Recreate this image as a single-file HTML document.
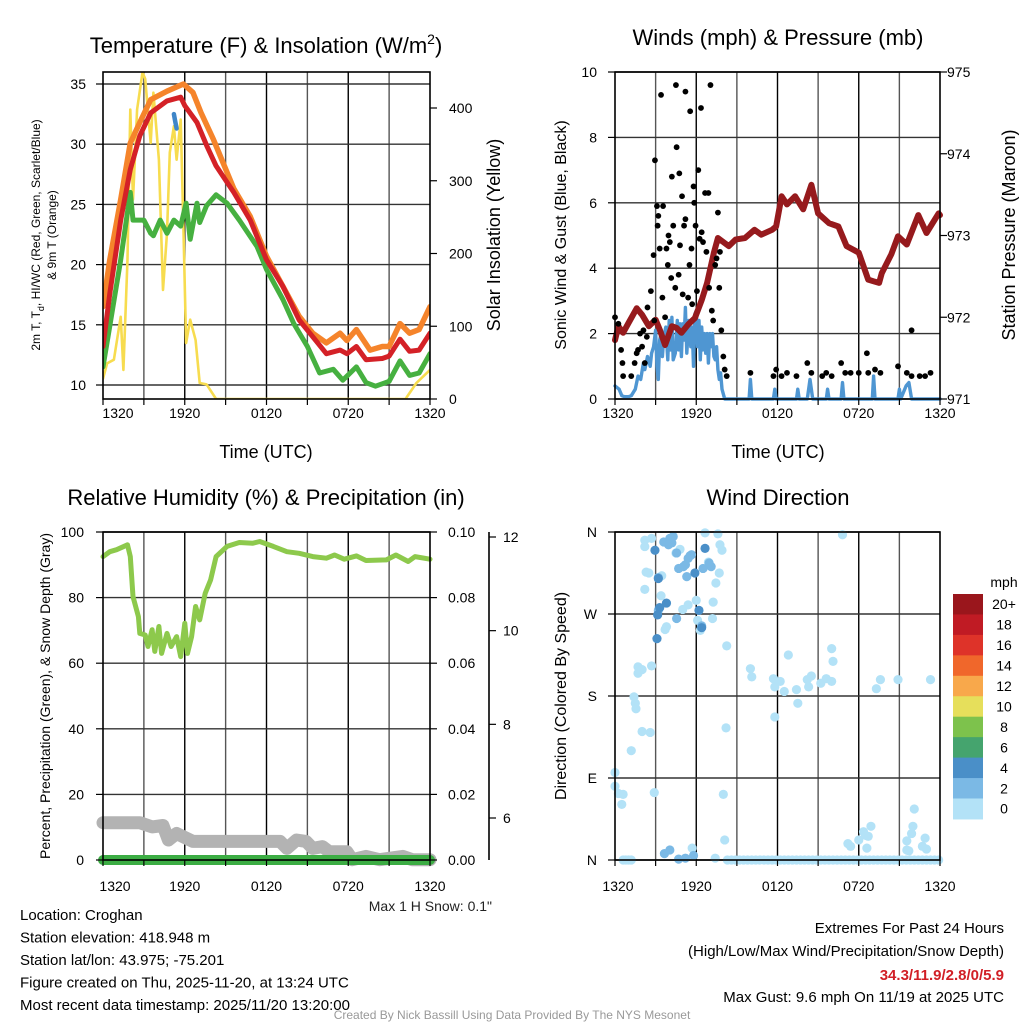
<!DOCTYPE html>
<html><head><meta charset="utf-8"><style>
html,body{margin:0;padding:0;background:#fff;}
svg{display:block;font-family:"Liberation Sans",Arial,sans-serif;}
</style></head><body>
<svg id="c" width="1024" height="1024" viewBox="0 0 1024 1024"></svg>
<script>
// ---------- DATA ----------
const redT=[0,0.5,1.3,2.0,2.7,3.5,4.7,5.7,6.0,6.9,7.6,8.3,9.6,10.8,12.0,13.2,14.4,15.4,16.4,17.4,17.9,18.6,19.3,20.5,21.0,21.8,22.5,23.2,24];
const redV=[13.2,17.6,23.7,27.9,30.7,32.6,33.6,33.9,33.2,31.8,29.9,28.2,26.0,23.7,20.4,18.2,15.4,14.0,12.6,12.9,12.6,13.2,12.1,12.2,12.4,13.8,12.8,12.9,14.3];
const orgT=[0,0.5,1.3,2.0,2.7,3.5,4.7,5.9,6.6,7.2,8.1,9.6,10.8,12.0,13.2,14.4,15.4,16.4,17.4,17.9,18.6,19.6,20.5,21.0,21.8,22.5,23.2,24];
const orgV=[16.5,20.4,25.4,30.1,31.8,33.7,34.4,35.0,34.3,32.6,30.4,26.3,24.0,20.7,18.2,15.7,14.3,13.5,14.3,13.7,14.6,12.9,13.2,13.2,15.1,14.3,14.6,16.5];
const grnT=[0,0.5,1.3,2.0,2.2,3.0,3.5,3.7,4.2,4.7,5.2,5.7,6.1,6.4,6.9,7.1,7.6,8.3,9.1,10.0,11.3,12.0,13.2,14.0,15.0,15.9,16.9,17.6,18.6,19.3,20.0,21.0,21.8,22.5,23.2,24];
const grnV=[11.5,14.9,20.4,26.0,23.7,23.7,22.6,22.4,23.7,22.6,23.7,23.2,25.1,22.1,25.1,23.5,24.9,25.8,25.1,23.7,21.5,19.6,17.1,15.1,13.2,11.0,11.3,10.4,11.5,10.2,9.9,10.3,12.0,10.8,11.0,12.6];
const hiT=[5.2,5.3,5.4];
const hiV=[32.5,31.9,31.3];
const solT=[0,0.3,0.8,1.3,1.5,1.8,2.0,2.2,2.5,2.9,3.1,3.5,3.7,4.1,4.4,4.7,4.9,5.2,5.4,5.7,5.9,6.1,6.4,6.8,7.1,7.6,8.3,22.2,23.0,24];
const solV=[28,49,54,113,40,192,398,274,398,449,440,352,421,329,150,228,339,375,329,384,237,77,109,81,22,20,0,0,22,40];
const windT=[0,0.3,0.5,0.7,1.0,1.2,1.5,1.7,1.9,2.1,2.2,2.4,2.6,2.7,2.85,3.0,3.1,3.2,3.3,3.4,3.5,3.6,3.75,3.9,4.0,4.1,4.2,4.3,4.45,4.6,4.7,4.8,4.9,5.0,5.1,5.2,5.3,5.45,5.6,5.7,5.8,5.9,6.0,6.1,6.2,6.3,6.4,6.5,6.6,6.7,6.8,6.9,7.0,7.1,7.2,7.3,7.4,7.5,7.6,7.7,7.8,7.9,8.1,9.9,10.0,10.1,11.7,11.8,11.9,13.4,13.5,13.6,14.2,14.4,14.6,15.6,15.7,15.8,16.7,16.8,16.9,19.0,19.1,19.2,20.9,21.0,21.1,21.5,21.7,21.9,24];
const windV=[0.4,0.3,0.1,0.07,0.07,0.1,0.3,0.7,0.6,1.1,0.9,1.3,1.0,1.4,1.6,2.1,1.0,0.6,1.8,2.0,1.3,1.9,2.2,1.2,2.4,1.5,2.5,1.2,1.4,2.4,1.5,2.3,1.3,2.3,1.8,2.8,1.4,2.4,1.6,2.2,1.0,2.6,2.7,1.6,2.4,1.2,2.2,1.5,2.0,1.4,2.0,1.1,2.0,1.6,2.0,1.3,1.2,1.6,0.9,0.6,0.8,0.3,0,0,0.6,0,0,0.3,0,0,0.3,0,0,0.6,0,0,0.3,0,0,0.5,0,0,0.7,0,0,0.3,0,0.4,0.5,0,0];
const gustT=[0.0,0.25,0.45,0.55,0.6,1.2,1.45,1.6,1.7,1.85,2.0,2.1,2.2,2.35,2.4,2.65,2.85,2.9,2.95,3.1,3.15,3.2,3.3,3.4,3.5,3.55,3.7,3.8,3.9,3.95,4.05,4.15,4.2,4.3,4.45,4.5,4.55,4.7,4.75,4.8,4.95,5.0,5.1,5.2,5.2,5.4,5.5,5.55,5.65,5.7,5.8,5.85,5.95,6.05,6.15,6.25,6.35,6.4,6.5,6.65,6.75,6.9,6.95,7.05,7.15,7.25,7.4,7.5,7.6,7.7,7.75,7.85,8.0,8.1,8.25,10.0,11.7,11.9,12.3,12.7,13.4,14.2,14.5,15.3,15.6,16.0,16.7,17.0,17.4,18.0,18.6,18.7,19.2,19.6,20.9,21.55,21.9,21.9,22.5,22.9,23.3];
const gustV=[2.5,2.3,1.5,1.1,0.7,0.7,1.1,1.4,1.5,2.0,1.6,2.1,1.1,1.9,2.8,3.3,4.4,2.4,7.3,5.9,5.3,5.6,4.6,9.3,3.1,5.9,2.5,4.6,4.1,5.0,4.8,3.7,6.8,5.3,3.4,9.6,7.7,3.8,6.9,4.7,6.2,3.2,5.3,5.5,9.4,3.1,4.1,8.8,4.6,2.9,6.5,6.0,5.3,3.3,7.0,4.9,8.9,5.1,4.8,6.3,4.5,6.3,3.4,9.6,2.7,2.4,4.1,4.3,5.7,3.4,4.5,2.1,1.3,0.9,0.7,0.8,0.7,0.9,0.7,0.8,0.7,1.1,0.8,0.7,0.8,0.7,1.1,0.8,0.8,0.8,1.4,0.8,0.9,0.8,1.0,0.8,2.1,0.7,0.7,0.7,0.8];
const presT=[0,0.25,0.6,1.0,1.6,2.0,2.5,3.0,3.3,3.7,4.2,4.55,4.9,5.4,5.9,6.4,6.8,7.3,7.6,8.4,8.9,9.6,10.3,10.8,11.6,11.9,12.3,12.7,13.3,13.9,14.5,15.0,15.8,16.5,17.1,18.0,18.7,19.1,19.5,19.7,20.4,20.9,21.55,22.4,23.0,23.9,24];
const presV=[971.72,971.89,971.81,971.93,972.11,972.03,971.89,971.97,971.85,971.66,971.89,971.87,971.81,971.91,971.99,972.21,972.42,972.79,972.97,972.87,972.95,972.97,973.07,973.01,973.07,973.11,973.48,973.38,973.48,973.32,973.62,973.27,973.15,973.11,972.87,972.79,972.46,972.44,972.42,972.54,972.77,972.99,972.89,973.25,973.03,973.27,973.25];
const rhT=[0,0.5,1.0,1.8,2.0,2.2,2.6,2.7,3.1,3.3,3.6,3.8,4.1,4.3,4.7,5.0,5.4,5.7,6.0,6.2,6.5,6.8,7.1,7.5,7.9,8.3,9.1,10.0,11.0,11.5,12.5,13.5,14.4,15.4,16.4,17.0,17.7,18.6,19.3,20.8,21.5,22.4,22.9,24];
const rhV=[92.5,94.0,94.6,96.1,92.5,80.3,74.2,69.1,68.6,65.1,70.2,63.6,71.2,63.0,69.1,65.1,68.1,62.0,72.2,63.0,68.1,77.3,73.2,81.3,85.4,92.5,95.6,96.8,96.6,97.1,95.6,94.0,93.5,92.5,92.0,93.0,91.7,92.7,91.3,91.5,93.0,91.0,92.5,91.7];
const snowT=[0,2.7,3.6,4.4,4.8,5.4,6.1,6.6,13.0,13.5,14.2,14.9,15.4,16.1,16.6,17.9,18.3,19.3,20.3,22.0,22.7,24];
const snowV=[5.90,5.90,5.81,5.84,5.53,5.67,5.57,5.50,5.50,5.35,5.53,5.50,5.35,5.39,5.28,5.28,5.11,5.18,5.11,5.18,5.11,5.11];
const precipT=[0,24];
const precipV=[0,0];
const dirLightT=[2.2,2.7,2.2,2.3,2.5,2.2,1.7,1.8,1.7,2.0,2.7,1.4,1.5,1.55,2.0,2.6,1.2,0,0,0.25,0.6,0.5,2.9,3.45,3.4,3.8,3.7,4.5,4.8,5.0,5.4,6.0,6.1,6.3,6.65,7.6,7.75,7.9,6.9,7.7,7.45,7.25,7.2,8.25,8.2,8.0,8.1,5.7,10.0,10.1,11.7,11.8,12.2,12.5,12.8,13.4,13.5,11.8,14.2,14.5,14.3,15.2,15.6,16.0,16.0,16.1,16.8,19.3,19.6,20.9,23.3,17.2,17.4,18.0,18.35,18.5,18.7,18.9,18.6,21.55,21.9,22.0,22.1,22.9,22.7,23.0,21.55,21.7];
const dirLightV=[351,353,344,316,315,297,212,209,205,209,213,179,172,166,141,140,120,96,81,73,72,61,74,312,290,256,253,337,341,275,280,285,263,252,359,358,346,340,327,315,304,283,265,235,145,72,22,13,210,201,199,190,196,185,225,187,172,157,198,202,190,194,199,196,232,218,357,188,198,198,198,18,15,22,31,27,26,37,13,21,29,37,56,24,15,12,11,10];
const dirCalmT=[0.6,0.8,1.0,1.2,7.4,8.3,8.6,8.9,9.2,9.5,9.8,10.1,10.4,10.7,11.0,11.3,11.6,11.9,12.2,12.5,12.8,13.1,13.4,13.7,14.0,14.3,14.6,14.9,15.2,15.5,15.8,16.1,16.4,16.7,17.0,17.3,17.6,17.9,18.2,18.5,18.8,19.1,19.4,19.7,20.0,20.3,20.6,20.9,21.2,21.5,21.8,22.1,22.4,22.7,23.0,23.3,23.6,23.9];
const dirCalmV=[0,0,0,0,2,0,0,0,0,0,0,0,0,0,0,0,0,0,0,0,0,0,0,0,0,0,0,0,0,0,0,0,0,0,0,0,0,0,0,0,0,0,0,0,0,0,0,0,0,0,0,0,0,0,0,0,0,0];
const dirMidT=[3.6,4.05,4.3,4.2,3.95,4.55,4.7,5.05,5.2,5.55,5.65,5.4,6.5,7.1,6.95,5.3,4.55,6.4,3.65,4.05,4.7,5.2,5.8,3.2,3.2];
const dirMidV=[349,353,355,348,346,337,320,322,324,334,335,331,320,322,326,311,265,257,7,11,1,2,5,274,310];
const dirDarkT=[2.95,3.2,3.8,3.1,3.15,3.3,6.65,5.9,6.2,6.4];
const dirDarkV=[340,309,282,243,269,277,342,315,274,255];
const cbLabels=["20+","18","16","14","12","10","8","6","4","2","0"];
const cbColors=["#9a161c","#c01b24","#de3329","#f0672b","#f8a84b","#e6df5b","#7dc24c","#45a46e","#4a8fc8","#7bb9e5","#b3e2f7"];

// ---------- HELPERS ----------
const svg=document.getElementById('c');
const NS='http://www.w3.org/2000/svg';
function mk(tag,attrs,parent){const e=document.createElementNS(NS,tag);for(const k in attrs)e.setAttribute(k,attrs[k]);(parent||svg).appendChild(e);return e;}
function lin(d0,d1,r0,r1){return v=>r0+(v-d0)*(r1-r0)/(d1-d0);}
function txt(x,y,s,size,anchor,extra,name){const t=mk('text',Object.assign({x:x,y:y,'font-size':size,'text-anchor':anchor||'start',fill:'#000'},extra||{}));t.textContent=s;


return t;}
function pathOf(ts,vs,sx,sy){return ts.map((t,i)=>(i?'L':'M')+sx(t).toFixed(1)+','+sy(vs[i]).toFixed(1)).join('');}
function line(ts,vs,sx,sy,color,w,name,g){const p=mk('path',{d:pathOf(ts,vs,sx,sy),fill:'none',stroke:color,'stroke-width':w,'stroke-linejoin':'round','stroke-linecap':'round'},g);


return p;}
function frame(L,T,R,B,name){const r=mk('rect',{x:L,y:T,width:R-L,height:B-T,fill:'none',stroke:'#000','stroke-width':1.6});

}
function vgrid(L,R,T,B){const sx=lin(0,24,L,R);for(let h=3;h<24;h+=3){const g=mk('line',{x1:sx(h),x2:sx(h),y1:T,y2:B,stroke:(h%6==0)?'#000':'#555','stroke-width':1.4});

}}
function hgrid(L,R,ys){ys.forEach(y=>{const g=mk('line',{x1:L,x2:R,y1:y,y2:y,stroke:'#333','stroke-width':1.4});

});}
function xlabels(L,R,y,firstOff,B){const lab=["1320","1920","0120","0720","1320"];const sx=lin(0,24,L,R);lab.forEach((s,i)=>{let x=sx(i*6);if(i==0)x+=firstOff;txt(x,y,s,14,'middle',null,'x-tick-label');});
for(let h=0;h<=24;h+=3){mk('line',{x1:sx(h),x2:sx(h),y1:B,y2:B+6,stroke:'#000','stroke-width':1.2});}}
function clip(id,L,T,R,B){const cp=mk('clipPath',{id:id});mk('rect',{x:L,y:T,width:R-L,height:B-T},cp);const g=mk('g',{'clip-path':'url(#'+id+')'});return g;}

// ---------- PANEL 1 ----------
(function(){const L=103,R=430,T=72,B=399;
const sx=lin(0,24,L,R), sy=lin(10,35,385,84), ss=lin(0,400,399,108);
vgrid(L,R,T,B);hgrid(L,R,[35,30,25,20,15,10].map(sy));
const g=clip('c1',L,T,R,B);
line(solT,solV,sx,ss,'#f7dc4f',2.6,'solar-insolation-line',g);
line(grnT,grnV,sx,sy,'#46b040',5,'dewpoint-line',g);
line(orgT,orgV,sx,sy,'#f5842b',5.5,'9m-temperature-line',g);
line(redT,redV,sx,sy,'#d42127',5,'2m-temperature-line',g);
line(hiT,hiV,sx,sy,'#3f86c8',4.5,'heat-index-line',g);
frame(L,T,R,B,'temperature-plot-frame');
[35,30,25,20,15,10].forEach(v=>txt(86,sy(v)+5,String(v),14,'end',null,'y-tick-label'));
[0,100,200,300,400].forEach(v=>{txt(449,ss(v)+5,String(v),14,'start',null,'y2-tick-label');mk('line',{x1:R,x2:R+7,y1:ss(v),y2:ss(v),stroke:'#000','stroke-width':1.2});});
for(let v=10;v<=35;v+=5)mk('line',{x1:L-7,x2:L,y1:sy(v),y2:sy(v),stroke:'#000','stroke-width':1.2});
xlabels(L,R,418,15,B);
txt(266,458,'Time (UTC)',18,'middle',null,'x-axis-title');
const t1=txt(266,53,'Temperature (F) & Insolation (W/m',22,'middle',null,'chart-title');
const sup=mk('tspan',{dy:-9,'font-size':14},t1);sup.textContent='2';
const cl=mk('tspan',{dy:9},t1);cl.textContent=')';
const yl=txt(0,0,'2m T, T',12,'middle',{transform:'translate(40,235) rotate(-90)'},'y-axis-title');
const sb=mk('tspan',{dy:4,'font-size':9},yl);sb.textContent='d';
const r2=mk('tspan',{dy:-4},yl);r2.textContent=', HI/WC (Red, Green, Scarlet/Blue)';
txt(0,0,'& 9m T (Orange)',12,'middle',{transform:'translate(56,235) rotate(-90)'},'y-axis-title-line2');
txt(0,0,'Solar Insolation (Yellow)',18,'middle',{transform:'translate(500,235) rotate(-90)'},'y2-axis-title');
})();

// ---------- PANEL 2 ----------
(function(){const L=615,R=940,T=72,B=399;
const sx=lin(0,24,L,R), sy=lin(0,10,399,72), sp=lin(971,975,399,72);
vgrid(L,R,T,B);hgrid(L,R,[0,2,4,6,8,10].map(sy));
const g=clip('c2',L-6,T,R+6,B+4);
line(windT,windV,sx,sy,'#4f96d2',3.4,'sonic-wind-line',g);
line(presT,presV,sx,sp,'#961a1d',6,'pressure-line',g);
gustT.forEach((t,i)=>{const c=mk('circle',{cx:sx(t),cy:sy(gustV[i]),r:2.9,fill:'#000'},g);

});
frame(L,T,R,B,'winds-plot-frame');
[0,2,4,6,8,10].forEach(v=>{txt(597,sy(v)+5,String(v),14,'end',null,'y-tick-label');mk('line',{x1:L-7,x2:L,y1:sy(v),y2:sy(v),stroke:'#000','stroke-width':1.2});});
[971,972,973,974,975].forEach(v=>{txt(947,sp(v)+5,String(v),14,'start',null,'y2-tick-label');mk('line',{x1:R,x2:R+7,y1:sp(v),y2:sp(v),stroke:'#000','stroke-width':1.2});});
xlabels(L,R,418,3,B);
txt(778,458,'Time (UTC)',18,'middle',null,'x-axis-title');
txt(778,45,'Winds (mph) & Pressure (mb)',22,'middle',null,'chart-title');
txt(0,0,'Sonic Wind & Gust (Blue, Black)',16,'middle',{transform:'translate(566,235) rotate(-90)'},'y-axis-title');
txt(0,0,'Station Pressure (Maroon)',18,'middle',{transform:'translate(1015,235) rotate(-90)'},'y2-axis-title');
})();

// ---------- PANEL 3 ----------
(function(){const L=103,R=430,T=532,B=860;
const sx=lin(0,24,L,R), sy=lin(0,100,860,532), sn=lin(6,12,818,537);
vgrid(L,R,T,B);hgrid(L,R,[0,20,40,60,80,100].map(sy));
line(rhT,rhV,sx,sy,'#8dc94c',5,'relative-humidity-line');
line(snowT,snowV,sx,sn,'#b3b3b3',13,'snow-depth-line');
line(precipT,precipV,sx,sy,'#3cad44',10,'precipitation-line');
frame(L,T,R,B,'humidity-plot-frame');
[0,20,40,60,80,100].forEach(v=>{txt(84,sy(v)+5,String(v),14,'end',null,'y-tick-label');mk('line',{x1:L-7,x2:L,y1:sy(v),y2:sy(v),stroke:'#000','stroke-width':1.2});});
['0.00','0.02','0.04','0.06','0.08','0.10'].forEach((s,i)=>{const y=sy(i*20);txt(448,y+5,s,14,'start',null,'y2-tick-label');mk('line',{x1:R,x2:R+7,y1:y,y2:y,stroke:'#000','stroke-width':1.2});});
mk('line',{x1:489,x2:489,y1:532,y2:860,stroke:'#000','stroke-width':1.6});
[6,8,10,12].forEach(v=>{txt(503,sn(v)+5,String(v),14,'start',null,'snow-tick-label');mk('line',{x1:489,x2:496,y1:sn(v),y2:sn(v),stroke:'#000','stroke-width':1.2});});
xlabels(L,R,891,12,B);
txt(266,505,'Relative Humidity (%) & Precipitation (in)',22,'middle',null,'chart-title');
txt(0,0,'Percent, Precipitation (Green), & Snow Depth (Gray)',14,'middle',{transform:'translate(50,696) rotate(-90)'},'y-axis-title');
txt(492,911,'Max 1 H Snow: 0.1"',14,'end',{fill:'#222'},'max-snow-note');
})();

// ---------- PANEL 4 ----------
(function(){const L=615,R=940,T=532,B=860;
const sx=lin(0,24,L,R), sy=lin(0,360,860,532);
vgrid(L,R,T,B);hgrid(L,R,[0,90,180,270,360].map(sy));
const g=clip('c4',L-8,T-6,R+6,B+6);
function dots(ts,vs,col,name){ts.forEach((t,i)=>{const c=mk('circle',{cx:sx(t),cy:sy(vs[i]),r:4.6,fill:col},g);

});}
dots(dirCalmT,dirCalmV,'#b3e2f7','direction-point-calm');
dots(dirLightT,dirLightV,'#b3e2f7','direction-point-0-2mph');
dots(dirMidT,dirMidV,'#7bb9e5','direction-point-2-4mph');
dots(dirDarkT,dirDarkV,'#4a8fc8','direction-point-4-6mph');
frame(L,T,R,B,'direction-plot-frame');
['N','E','S','W','N'].forEach((s,i)=>{const y=sy(i*90);txt(597,y+5,s,14,'end',null,'y-tick-label');mk('line',{x1:L-7,x2:L,y1:y,y2:y,stroke:'#000','stroke-width':1.2});});
xlabels(L,R,891,3,B);
txt(778,505,'Wind Direction',22,'middle',null,'chart-title');
txt(0,0,'Direction (Colored By Speed)',16,'middle',{transform:'translate(566,696) rotate(-90)'},'y-axis-title');
const h=20.45;
cbColors.forEach((c,i)=>{const r=mk('rect',{x:953,y:594+i*h,width:30,height:h+0.5,fill:c});


txt(1004,594+i*h+h/2+5,cbLabels[i],14,'middle',null,'colorbar-label');});
txt(1004,587,'mph',14,'middle',null,'colorbar-title');
})();

// ---------- FOOTER TEXT ----------
const info=["Location: Croghan","Station elevation: 418.948 m","Station lat/lon: 43.975; -75.201","Figure created on Thu, 2025-11-20, at 13:24 UTC","Most recent data timestamp: 2025/11/20 13:20:00"];
info.forEach((s,i)=>txt(20,920+i*22.5,s,15,'start',null,'station-info-line'));
txt(1004,933,'Extremes For Past 24 Hours',15,'end',null,'extremes-heading');
txt(1004,956,'(High/Low/Max Wind/Precipitation/Snow Depth)',15,'end',null,'extremes-legend');
txt(1004,980,'34.3/11.9/2.8/0/5.9',15,'end',{fill:'#d11f26','font-weight':'bold'},'extremes-values');
txt(1004,1002,'Max Gust: 9.6 mph On 11/19 at 2025 UTC',15,'end',null,'max-gust');
txt(512,1019,'Created By Nick Bassill Using Data Provided By The NYS Mesonet',12,'middle',{fill:'#999'},'credit-footer');
</script>
</body></html>
